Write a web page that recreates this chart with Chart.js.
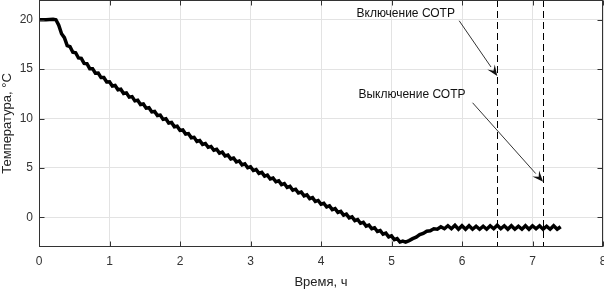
<!DOCTYPE html>
<html>
<head>
<meta charset="utf-8">
<script src="https://cdn.jsdelivr.net/npm/chart.js@4.4.0/dist/chart.umd.min.js"></script>
<style>
  html, body { margin: 0; padding: 0; background: #fff; }
  #wrap { width: 604px; height: 290px; }
</style>
</head>
<body>
<div id="wrap"><canvas id="grafico" width="604" height="290"></canvas></div>
<script>
// время, ч
const times = [
  0, 0.1, 0.2, 0.24,
  0.28, 0.32, 0.36, 0.40, 0.44, 0.48, 0.52, 0.56, 0.60, 0.64, 0.68, 0.72, 0.76, 0.80, 0.84, 0.88, 0.92, 0.96,
  1.00, 1.04, 1.08, 1.12, 1.16, 1.20, 1.24, 1.28, 1.32, 1.36, 1.40, 1.44, 1.48, 1.52, 1.56, 1.60, 1.64, 1.68, 1.72, 1.76, 1.80, 1.84, 1.88, 1.92, 1.96,
  2.00, 2.04, 2.08, 2.12, 2.16, 2.20, 2.24, 2.28, 2.32, 2.36, 2.40, 2.44, 2.48, 2.52, 2.56, 2.60, 2.64, 2.68, 2.72, 2.76, 2.80, 2.84, 2.88, 2.92, 2.96,
  3.00, 3.04, 3.08, 3.12, 3.16, 3.20, 3.24, 3.28, 3.32, 3.36, 3.40, 3.44, 3.48, 3.52, 3.56, 3.60, 3.64, 3.68, 3.72, 3.76, 3.80, 3.84, 3.88, 3.92, 3.96,
  4.00, 4.04, 4.08, 4.12, 4.16, 4.20, 4.24, 4.28, 4.32, 4.36, 4.40, 4.44, 4.48, 4.52, 4.56, 4.60, 4.64, 4.68, 4.72, 4.76, 4.80, 4.84, 4.88, 4.92, 4.96,
  5.00, 5.04, 5.08, 5.12, 5.16, 5.20,
  5.25, 5.30, 5.35, 5.40, 5.45, 5.50, 5.55, 5.60, 5.65, 5.70, 5.75, 5.80, 5.85, 5.90, 5.95,
  6.00, 6.05, 6.10, 6.15, 6.20, 6.25, 6.30, 6.35, 6.40, 6.45, 6.50, 6.55, 6.60, 6.65, 6.70, 6.75, 6.80, 6.85, 6.90, 6.95,
  7.00, 7.05, 7.10, 7.15, 7.20, 7.25, 7.30, 7.35, 7.40
];

// температура, °C
const temps = [
  20.0, 20.0, 20.05, 20.0,
  19.45, 18.58, 18.19, 17.38, 17.28, 16.71, 16.66, 16.13, 16.09, 15.58, 15.55, 15.05, 15.05, 14.59, 14.61, 14.15, 14.16, 13.70,
  13.72, 13.29, 13.35, 12.92, 12.97, 12.54, 12.60, 12.17, 12.22, 11.79, 11.85, 11.42, 11.47, 11.05, 11.10, 10.67, 10.72, 10.30, 10.35, 9.92, 9.98, 9.55, 9.60, 9.17, 9.23,
  8.80, 8.85, 8.43, 8.48, 8.05, 8.10, 7.68, 7.77, 7.39, 7.48, 7.09, 7.18, 6.80, 6.89, 6.50, 6.60, 6.21, 6.30, 5.91, 6.01, 5.62, 5.71, 5.32, 5.42, 5.03,
  5.12, 4.74, 4.84, 4.45, 4.55, 4.17, 4.27, 3.89, 3.98, 3.60, 3.70, 3.32, 3.42, 3.03, 3.13, 2.75, 2.85, 2.47, 2.56, 2.18, 2.28, 1.90, 2.00, 1.61, 1.71,
  1.33, 1.43, 1.05, 1.16, 0.78, 0.88, 0.50, 0.60, 0.23, 0.33, -0.05, 0.05, -0.33, -0.22, -0.60, -0.50, -0.88, -0.78, -1.15, -1.05, -1.43, -1.33, -1.71, -1.60, -1.98,
  -1.88, -2.25, -2.15, -2.50, -2.40, -2.50,
  -2.35, -2.15, -2.00, -1.75, -1.62, -1.40, -1.35, -1.15, -1.20, -0.95, -1.15, -0.85, -1.15, -0.80, -1.20,
  -0.85, -1.20, -0.85, -1.20, -0.90, -1.20, -0.90, -1.20, -0.85, -1.15, -0.80, -1.15, -0.85, -1.20, -0.85, -1.20, -0.90, -1.20, -0.85, -1.20,
  -0.85, -1.15, -0.85, -1.20, -0.90, -1.20, -0.85, -1.20, -0.95
];

const xTicks = [0, 1, 2, 3, 4, 5, 6, 7, 8];
const yTicks = [0, 5, 10, 15, 20];

// моменты включения / выключения СОТР, ч
const eventTimes = [6.5, 7.15];
const eventLabels = ["Включение СОТР", "Выключение СОТР"];

const FONT = "'Liberation Sans', Arial, sans-serif";

const noPad = s => {
  s.paddingTop = 0; s.paddingBottom = 0;
  s.paddingLeft = 0; s.paddingRight = 0;
};

const decor = {
  id: "decor",
  afterDraw(chart) {
    const { ctx, chartArea: a, scales: { x, y } } = chart;
    ctx.save();

    // пунктирные вертикали
    ctx.strokeStyle = "#000";
    ctx.lineWidth = 1;
    ctx.setLineDash([7, 4]);
    eventTimes.forEach(t => {
      const px = Math.round(x.getPixelForValue(t)) + 0.5;
      ctx.beginPath();
      ctx.moveTo(px, a.top);
      ctx.lineTo(px, a.bottom);
      ctx.stroke();
    });
    ctx.setLineDash([]);

    // рамка и внутренние штрихи
    ctx.strokeStyle = "#333";
    ctx.lineWidth = 1;
    const L = Math.round(a.left) + 0.5, R = Math.round(a.right) - 0.5;
    const T = Math.round(a.top) + 0.5, B = Math.round(a.bottom) - 0.5;
    ctx.strokeRect(L, T, R - L, B - T);
    const tl = 5;
    ctx.beginPath();
    xTicks.forEach(v => {
      const px = Math.round(x.getPixelForValue(v)) + 0.5;
      ctx.moveTo(px, B); ctx.lineTo(px, B - tl);
      ctx.moveTo(px, T); ctx.lineTo(px, T + tl);
    });
    yTicks.forEach(v => {
      const py = Math.round(y.getPixelForValue(v)) + 0.5;
      ctx.moveTo(L, py); ctx.lineTo(L + tl, py);
      ctx.moveTo(R, py); ctx.lineTo(R - tl, py);
    });
    ctx.stroke();

    // подписи со стрелками
    const notes = [
      { text: eventLabels[0], tx: 5.90, ty: 20.6, fx: 5.96, fy: 19.9, to: [eventTimes[0], 14.3] },
      { text: eventLabels[1], tx: 6.05, ty: 12.4, fx: 6.15, fy: 11.6, to: [eventTimes[1], 3.6] }
    ];
    ctx.font = "12px " + FONT;
    ctx.textAlign = "right";
    ctx.textBaseline = "middle";
    notes.forEach(n => {
      ctx.fillStyle = "#111";
      ctx.fillText(n.text, x.getPixelForValue(n.tx), y.getPixelForValue(n.ty));
      const x0 = x.getPixelForValue(n.fx), y0 = y.getPixelForValue(n.fy);
      const x1 = x.getPixelForValue(n.to[0]), y1 = y.getPixelForValue(n.to[1]);
      const ang = Math.atan2(y1 - y0, x1 - x0);
      const hl = 11, hw = 4.5;
      const bx = x1 - hl * Math.cos(ang), by = y1 - hl * Math.sin(ang);
      ctx.strokeStyle = "#333";
      ctx.lineWidth = 1;
      ctx.beginPath();
      ctx.moveTo(x0, y0);
      ctx.lineTo(bx, by);
      ctx.stroke();
      ctx.beginPath();
      ctx.moveTo(x1, y1);
      ctx.lineTo(bx - hw * Math.sin(ang), by + hw * Math.cos(ang));
      ctx.lineTo(x1 - 0.6 * hl * Math.cos(ang), y1 - 0.6 * hl * Math.sin(ang));
      ctx.lineTo(bx + hw * Math.sin(ang), by - hw * Math.cos(ang));
      ctx.closePath();
      ctx.fill();
    });
    ctx.restore();
  }
};

new Chart(document.getElementById("grafico").getContext("2d"), {
  type: "line",
  data: {
    datasets: [{
      data: times.map((t, i) => ({ x: t, y: temps[i] })),
      borderColor: "#000",
      borderWidth: 3.5,
      pointRadius: 0,
      tension: 0,
      fill: false
    }]
  },
  options: {
    responsive: false,
    animation: false,
    events: [],
    layout: { padding: { top: 0, right: 1, left: 0, bottom: 0 } },
    plugins: { legend: { display: false }, tooltip: { enabled: false } },
    scales: {
      x: {
        type: "linear",
        min: 0, max: 8,
        afterBuildTicks: s => { s.ticks = xTicks.map(v => ({ value: v })); },
        afterFit: s => { s.height = 43; noPad(s); },
        grid: { color: "#e3e3e3", drawTicks: false },
        border: { display: false },
        ticks: { padding: 7, color: "#333", font: { family: FONT, size: 12 }, maxRotation: 0 },
        title: { display: true, text: "Время, ч", color: "#222", padding: { top: 2, bottom: 0 }, font: { family: FONT, size: 13 } }
      },
      y: {
        type: "linear",
        min: -3, max: 22,
        afterBuildTicks: s => { s.ticks = yTicks.map(v => ({ value: v })); },
        afterFit: s => { s.width = 39; noPad(s); },
        grid: { color: "#e3e3e3", drawTicks: false },
        border: { display: false },
        ticks: { padding: 6, color: "#333", font: { family: FONT, size: 12 } },
        title: { display: true, text: "Температура, °С", color: "#222", padding: { top: 0, bottom: 0 }, font: { family: FONT, size: 13 } }
      }
    }
  },
  plugins: [decor]
});
</script>
</body>
</html>
